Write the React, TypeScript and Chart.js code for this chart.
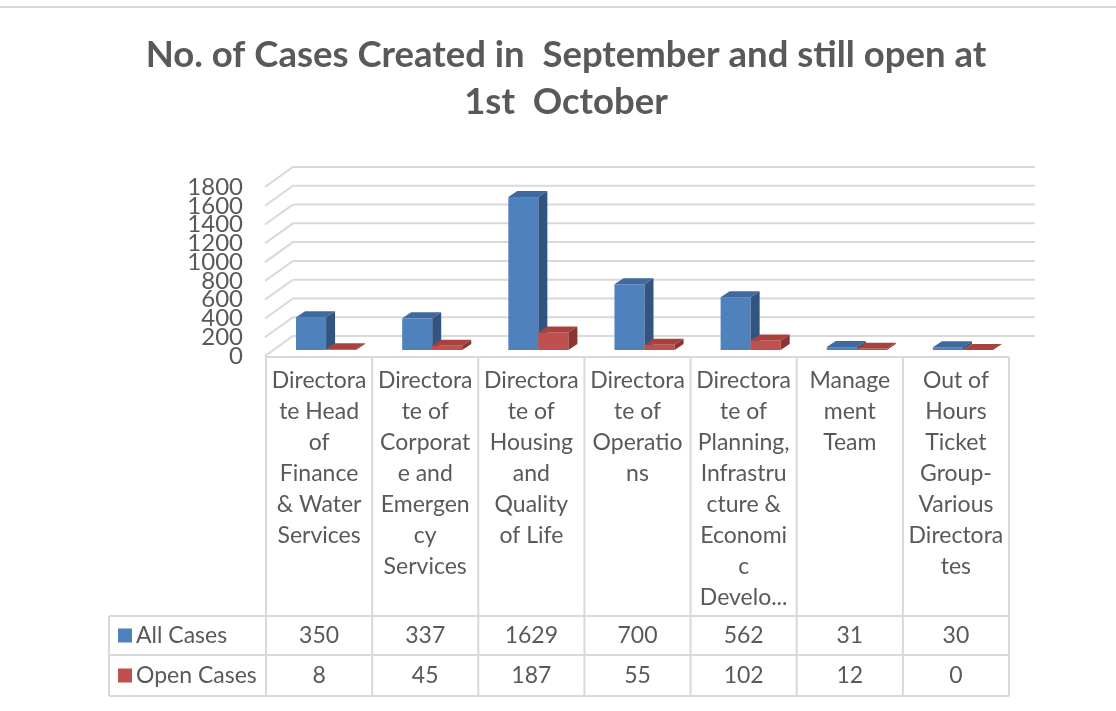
import React, { useEffect, useRef } from "react";
import { Chart, registerables } from "chart.js";

Chart.register(...registerables);

// ---------- data ----------
const titleLines = ["No. of Cases Created in  September and still open at", "1st  October"];
const categoryLabels: string[][] = [
  ["Directora", "te Head", "of", "Finance", "& Water", "Services"],
  ["Directora", "te of", "Corporat", "e and", "Emergen", "cy", "Services"],
  ["Directora", "te of", "Housing", "and", "Quality", "of Life"],
  ["Directora", "te of", "Operatio", "ns"],
  ["Directora", "te of", "Planning,", "Infrastru", "cture &", "Economi", "c", "Develo..."],
  ["Manage", "ment", "Team"],
  ["Out of", "Hours", "Ticket", "Group-", "Various", "Directora", "tes"],
];
const seriesNames = ["All Cases", "Open Cases"];
const allCases = [350, 337, 1629, 700, 562, 31, 30];
const openCases = [8, 45, 187, 55, 102, 12, 0];
const yMin = 0;
const yMax = 1800;
const yStep = 200;

// ---------- style ----------
const FONT = "Lato, 'Open Sans', sans-serif";
const TEXT = "#595959";
const GRID = "#D9D9D9";
const FRONT = ["#4F81BD", "#C0504D"];
const TOP = ["#3F6AA0", "#A8423F"];
const SIDE = ["#32557F", "#8C3432"];

const W = 1116;
const H = 711;

const excelPlugin = {
  id: "excel3d",
  beforeDatasetsDraw(chart: any) {
    const ctx = chart.ctx;
    const ys = chart.scales.y;
    const area = chart.chartArea;
    const wallDx = 27, wallDy = 20, wallRight = 26;
    ctx.save();
    ctx.strokeStyle = GRID;
    ctx.lineWidth = 2;
    ys.ticks.forEach((t: any) => {
      const fy = ys.getPixelForValue(t.value);
      ctx.beginPath();
      ctx.moveTo(area.left - 1, fy);
      ctx.lineTo(area.left + wallDx, fy - wallDy);
      ctx.lineTo(area.right + wallRight, fy - wallDy);
      ctx.stroke();
    });
    const shiftX = 7, shiftY = 6, bdx = 9, bdy = 6;
    const n = chart.data.labels.length;
    for (let i = 0; i < n; i++) {
      chart.data.datasets.forEach((ds: any, di: number) => {
        const meta = chart.getDatasetMeta(di);
        const el = meta.data[i];
        if (!el) return;
        const p = el.getProps(["x", "y", "base", "width"], true);
        const L = p.x - p.width / 2 + shiftX;
        const R = L + p.width;
        const T = p.y - shiftY;
        const B = p.base - shiftY;
        ctx.fillStyle = FRONT[di];
        ctx.fillRect(L, T, R - L, B - T);
        ctx.fillStyle = TOP[di];
        ctx.beginPath();
        ctx.moveTo(L, T);
        ctx.lineTo(L + bdx, T - bdy);
        ctx.lineTo(R + bdx, T - bdy);
        ctx.lineTo(R, T);
        ctx.closePath();
        ctx.fill();
        ctx.fillStyle = SIDE[di];
        ctx.beginPath();
        ctx.moveTo(R, T);
        ctx.lineTo(R + bdx, T - bdy);
        ctx.lineTo(R + bdx, B - bdy);
        ctx.lineTo(R, B);
        ctx.closePath();
        ctx.fill();
      });
    }
    ctx.restore();
    return false;
  },
  afterDraw(chart: any) {
    const ctx = chart.ctx;
    const xs = chart.scales.x;
    const area = chart.chartArea;
    const n = chart.data.labels.length;
    const colW = (xs.right - xs.left) / n;
    const floorY = area.bottom + 1;
    const rowTops = [616, 655, 696];
    const tableLeft = 109;
    ctx.save();
    ctx.strokeStyle = GRID;
    ctx.lineWidth = 2;
    ctx.beginPath();
    ctx.moveTo(0, 7);
    ctx.lineTo(W, 7);
    ctx.stroke();
    ctx.beginPath();
    ctx.moveTo(xs.left - 1, floorY);
    ctx.lineTo(xs.right, floorY);
    ctx.stroke();
    for (let i = 0; i <= n; i++) {
      const x = xs.left + i * colW;
      ctx.beginPath();
      ctx.moveTo(x, floorY);
      ctx.lineTo(x, rowTops[2]);
      ctx.stroke();
    }
    rowTops.forEach((y) => {
      ctx.beginPath();
      ctx.moveTo(tableLeft, y);
      ctx.lineTo(xs.right, y);
      ctx.stroke();
    });
    ctx.beginPath();
    ctx.moveTo(tableLeft, rowTops[0]);
    ctx.lineTo(tableLeft, rowTops[2]);
    ctx.stroke();
    ctx.font = `23px ${FONT}`;
    ctx.textBaseline = "middle";
    chart.data.datasets.forEach((ds: any, di: number) => {
      const cy = (rowTops[di] + rowTops[di + 1]) / 2;
      ctx.fillStyle = FRONT[di];
      ctx.fillRect(118, cy - 7, 14, 14);
      ctx.fillStyle = TEXT;
      ctx.textAlign = "left";
      ctx.fillText(ds.label, 136, cy);
      ctx.textAlign = "center";
      ds.data.forEach((v: number, i: number) => {
        ctx.fillText(String(v), xs.getPixelForTick(i), cy);
      });
    });
    ctx.restore();
  },
};

export default function App() {
  const ref = useRef<HTMLCanvasElement | null>(null);
  useEffect(() => {
    if (!ref.current) return;
    const chart = new Chart(ref.current, {
      type: "bar",
      data: {
        labels: categoryLabels,
        datasets: [
          { label: seriesNames[0], data: allCases, backgroundColor: FRONT[0] },
          { label: seriesNames[1], data: openCases, backgroundColor: FRONT[1] },
        ],
      },
      options: {
        responsive: false,
        animation: false,
        events: [],
        categoryPercentage: 0.566,
        barPercentage: 1,
        layout: { padding: { top: 11, left: 123, right: 107, bottom: 0 } },
        plugins: {
          legend: { display: false },
          tooltip: { enabled: false },
          title: {
            display: true,
            text: titleLines,
            color: TEXT,
            font: { family: FONT, size: 36.5, weight: "bold", lineHeight: 47 / 36.5 },
            padding: { top: 20.5, bottom: 61.5 },
          },
        },
        scales: {
          x: {
            grid: { display: false, drawTicks: false },
            border: { display: false },
            ticks: {
              color: TEXT,
              font: { family: FONT, size: 23, lineHeight: 31 / 23 },
              padding: 9,
              maxRotation: 0,
              minRotation: 0,
              autoSkip: false,
            },
            afterFit: (s: any) => {
              s.height = 355;
            },
          },
          y: {
            min: yMin,
            max: yMax,
            grid: { display: false, drawTicks: false },
            border: { display: false },
            ticks: {
              count: (yMax - yMin) / yStep + 1,
              color: TEXT,
              font: { family: FONT, size: 24, lineHeight: 1 },
              padding: 23,
              autoSkip: false,
              callback: (v: any) => String(v),
            },
            afterFit: (s: any) => {
              s.width = 143;
            },
          },
        },
      },
      plugins: [excelPlugin],
    } as any);
    return () => chart.destroy();
  }, []);
  return (
    <div style={{ position: "fixed", left: 0, top: 0, width: W, height: H, background: "#fff" }}>
      <canvas ref={ref} width={W} height={H} style={{ display: "block" }} />
    </div>
  );
}
